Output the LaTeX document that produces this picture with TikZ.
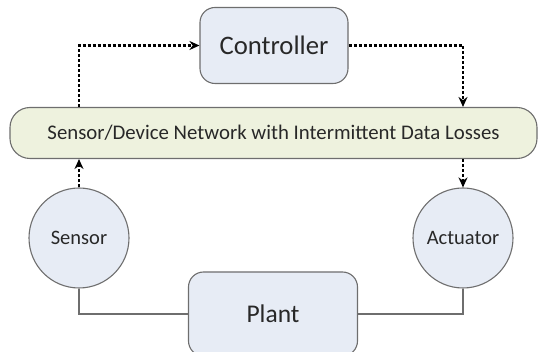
\documentclass[tikz,border=0pt]{standalone}
\usepackage{fontspec}
\setmainfont{Carlito}
\usetikzlibrary{arrows.meta}
\definecolor{boxblue}{RGB}{231,236,245}
\definecolor{netgreen}{RGB}{238,242,222}
\definecolor{edgegray}{RGB}{110,110,110}
\definecolor{txt}{RGB}{40,40,40}
\tikzset{
  blockbox/.style={draw=edgegray, line width=1.1pt, fill=boxblue, rounded corners=15pt, text=txt, inner sep=0pt},
  netbox/.style={draw=edgegray, line width=1.1pt, fill=netgreen, rounded corners=20pt, text=txt, inner sep=0pt,
    minimum width=527pt, minimum height=51pt, font=\fontsize{20.8}{24}\selectfont},
  roundnode/.style={draw=edgegray, line width=1.1pt, fill=boxblue, circle, minimum size=100pt, inner sep=0pt,
    text=txt, font=\fontsize{20.5}{24}\selectfont},
  netlink/.style={line width=2.3pt, dash pattern=on 3.2pt off 1.8pt, -{Stealth[length=10pt,width=9pt]}},
  wire/.style={draw=edgegray, line width=1.1pt}
}
\begin{document}
\begin{tikzpicture}[x=1pt,y=-1pt]
  \useasboundingbox (0,0) rectangle (539,352);
  % blocks
  \node[blockbox, minimum width=148pt, minimum height=76pt, font=\fontsize{26.7}{30}\selectfont] (ctrl) at (274,45.5) {Controller};
  \node[netbox] (net) at (273.5,133) {Sensor/Device Network with Intermittent Data Losses};
  \node[roundnode] (sens) at (79,238) {Sensor};
  \node[roundnode] (act) at (463,238) {Actuator};
  \node[blockbox, minimum width=169pt, minimum height=84pt, font=\fontsize{25.5}{30}\selectfont] (plant) at (273,314) {Plant};
  % network links
  \draw[netlink] (net.north -| sens.north) |- (ctrl.west);
  \draw[netlink] (ctrl.east) -| (act.north |- net.north);
  \draw[netlink] (sens.north) -- (net.south -| sens.north);
  \draw[netlink] (net.south -| act.north) -- (act.north);
  % physical connections
  \draw[wire] (sens.south) |- (plant.west);
  \draw[wire] (act.south) |- (plant.east);
\end{tikzpicture}
\end{document}
